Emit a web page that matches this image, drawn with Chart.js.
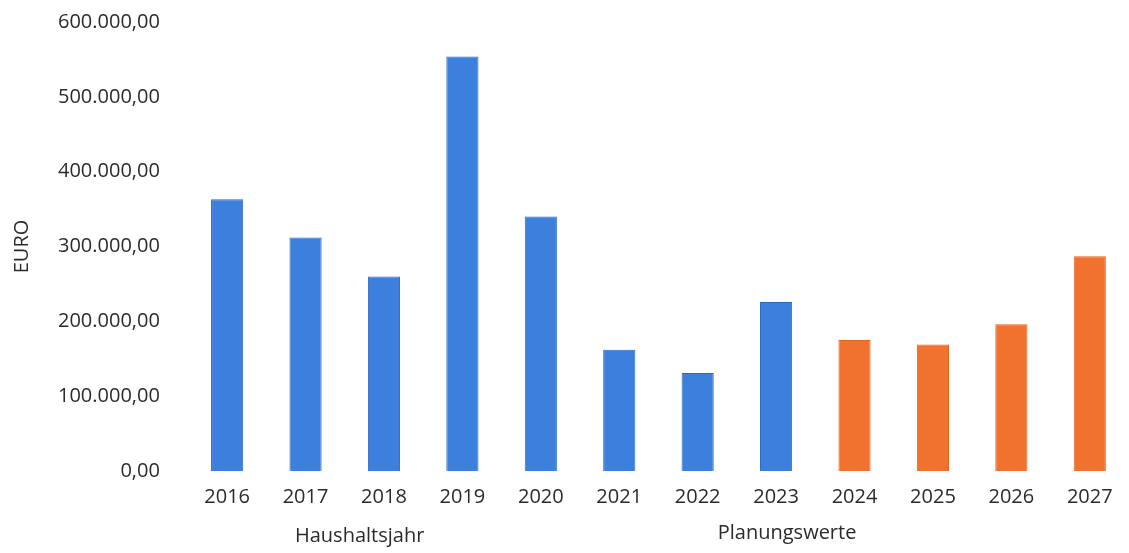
<!DOCTYPE html>
<html lang="de">
<head>
<meta charset="utf-8">
<title>Ausgaben je Haushaltsjahr</title>
<script src="https://cdn.jsdelivr.net/npm/chart.js@4.4.1/dist/chart.umd.min.js"></script>
<style>
  html, body { margin: 0; padding: 0; background: #ffffff; overflow: hidden; }
  #wrap { width: 1129px; height: 553px; position: relative; }
</style>
</head>
<body>
<div id="wrap"><canvas id="chart"></canvas></div>
<script>
// Haushaltsjahre (2016–2023 Ist, 2024–2027 Planung)
const jahre = ['2016', '2017', '2018', '2019', '2020', '2021', '2022', '2023', '2024', '2025', '2026', '2027'];
const betraege = [363000, 312000, 260000, 554000, 340000, 162000, 131000, 226000, 175000, 169000, 196000, 287000];
const istPlanung = [false, false, false, false, false, false, false, false, true, true, true, true];
const yTicks = [0, 100000, 200000, 300000, 400000, 500000, 600000];
const gruppenTexte = ['Haushaltsjahr', 'Planungswerte'];

const FONT = '"Open Sans", "DejaVu Sans", sans-serif';
const TEXT = '#2b2b2b';

function euro(v) {
  const fixed = Math.abs(v).toFixed(2);
  const [ganz, dez] = fixed.split('.');
  const mitPunkten = ganz.replace(/\B(?=(\d{3})+(?!\d))/g, '.');
  return (v < 0 ? '-' : '') + mitPunkten + ',' + dez;
}

// Beschriftungen unter der Achse
const gruppenPlugin = {
  id: 'gruppen',
  afterDraw(chart, args, opts) {
    const { ctx } = chart;
    const x = chart.scales.x;
    ctx.save();
    ctx.font = `20px ${FONT}`;
    ctx.fillStyle = TEXT;
    ctx.textAlign = 'center';
    ctx.textBaseline = 'middle';
    opts.items.forEach(it => {
      ctx.fillText(it.text, x.getPixelForValue(it.at), it.y);
    });
    ctx.restore();
  }
};

new Chart(document.getElementById('chart'), {
  type: 'bar',
  data: {
    labels: jahre,
    datasets: [{
      data: betraege,
      backgroundColor: istPlanung.map(p => p ? '#f0722e' : '#3d7fdd'),
      borderColor: istPlanung.map(p => p ? '#e2621f' : '#2c68c6'),
      borderWidth: 1,
      barPercentage: 0.41,
      categoryPercentage: 1.0
    }]
  },
  options: {
    responsive: true,
    maintainAspectRatio: false,
    animation: false,
    layout: { padding: { left: 10, right: 0, top: 22, bottom: 30 } },
    plugins: {
      legend: { display: false },
      tooltip: { enabled: false },
      gruppen: {
        items: [
          { text: gruppenTexte[0], at: 1.69, y: 536 },
          { text: gruppenTexte[1], at: 7.14, y: 533 }
        ]
      }
    },
    scales: {
      x: {
        grid: { display: false, drawTicks: false },
        border: { display: false },
        ticks: { color: TEXT, font: { family: FONT, size: 20 }, padding: 14, maxRotation: 0 },
        afterFit: s => { s.paddingLeft = 0; s.paddingRight = 0; }
      },
      y: {
        min: 0,
        max: 600000,
        afterBuildTicks: s => { s.ticks = yTicks.map(v => ({ value: v })); },
        afterFit: s => { s.paddingTop = 12; s.paddingBottom = 12; },
        grid: { display: false, drawTicks: false },
        border: { display: false },
        ticks: {
          color: TEXT,
          font: { family: FONT, size: 20 },
          padding: 28,
          callback: v => euro(v)
        },
        title: {
          display: true,
          text: 'EURO',
          color: TEXT,
          font: { family: FONT, size: 20 },
          padding: { top: 0, bottom: -4 }
        }
      }
    }
  },
  plugins: [gruppenPlugin]
});
</script>
</body>
</html>
